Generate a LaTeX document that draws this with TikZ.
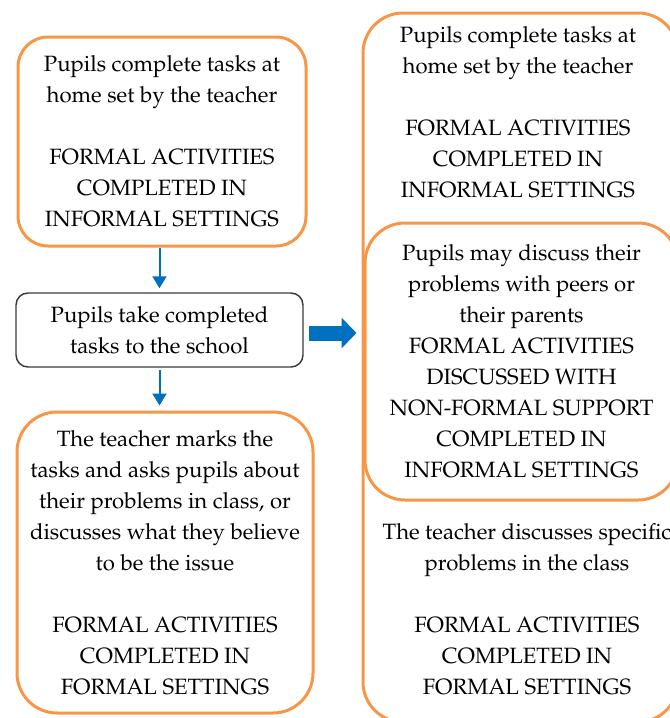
\documentclass[tikz,border=0pt]{standalone}
\usepackage[T1]{fontenc}
\usepackage{mathpazo}
\usetikzlibrary{arrows.meta}
\definecolor{orng}{HTML}{F79646}
\definecolor{blu}{HTML}{0070C0}
\definecolor{dgray}{HTML}{3A3A3A}
\begin{document}
\begin{tikzpicture}[x=0.75pt,y=-0.75pt,
  every node/.style={font=\fontsize{16.6}{23.25}\selectfont, align=center, inner sep=0pt},
  obox/.style={draw=orng, line width=2.25pt, rounded corners=22.5pt},
  bigbox/.style={draw=orng, line width=2.25pt, rounded corners=30pt},
  gbox/.style={draw=dgray, line width=1.1pt, rounded corners=9pt},
  thinarrow/.style={draw=blu, line width=1.5pt, -{Triangle[width=10.5pt,length=9pt]}},
  fatarrow/.style={draw=blu, line width=11.25pt, -{Triangle[width=22.5pt,length=11.25pt]}}]
\useasboundingbox (0,0) rectangle (670,718);
\clip (0,0) rectangle (670,718);
% left column
\node[obox, minimum width=216pt, minimum height=156.75pt] (A) at (162,141.5)
  {Pupils complete tasks at\\home set by the teacher\\[23.25pt]FORMAL ACTIVITIES\\COMPLETED IN\\INFORMAL SETTINGS};
\node[gbox, minimum width=215.25pt, minimum height=55.5pt] (B) at (159.5,330)
  {Pupils take completed\\tasks to the school};
\node[bigbox, minimum width=222pt, minimum height=225.75pt] (C) at (165,562.5)
  {The teacher marks the\\tasks and asks pupils about\\their problems in class, or\\discusses what they believe\\to be the issue\\[23.25pt]FORMAL ACTIVITIES\\COMPLETED IN\\FORMAL SETTINGS};
% right column
\node[bigbox, minimum width=236.25pt, minimum height=531.75pt] (R) at (520.5,367.5) {};
\node (Rt) at (518,112)
  {Pupils complete tasks at\\home set by the teacher\\[23.25pt]FORMAL ACTIVITIES\\COMPLETED IN\\INFORMAL SETTINGS};
\node[bigbox, minimum width=234.75pt, minimum height=207.75pt] (D) at (521.5,361.5)
  {Pupils may discuss their\\problems with peers or\\their parents\\FORMAL ACTIVITIES\\DISCUSSED WITH\\NON-FORMAL SUPPORT\\COMPLETED IN\\INFORMAL SETTINGS};
\node (Rb) at (527,609)
  {The teacher discusses specific\\problems in the class\\[23.25pt]FORMAL ACTIVITIES\\COMPLETED IN\\FORMAL SETTINGS};
% connectors
\draw[thinarrow, shorten >=3pt] (A.south -| B.north) -- (B.north);
\draw[thinarrow, shorten <=2pt, shorten >=3.75pt] (B.south) -- (B.south |- C.north);
\draw[fatarrow, shorten <=3.75pt, shorten >=3.75pt] ([yshift=-2.25pt]B.east) -- ([yshift=-2.25pt]B.east -| R.west);
\end{tikzpicture}
\end{document}
